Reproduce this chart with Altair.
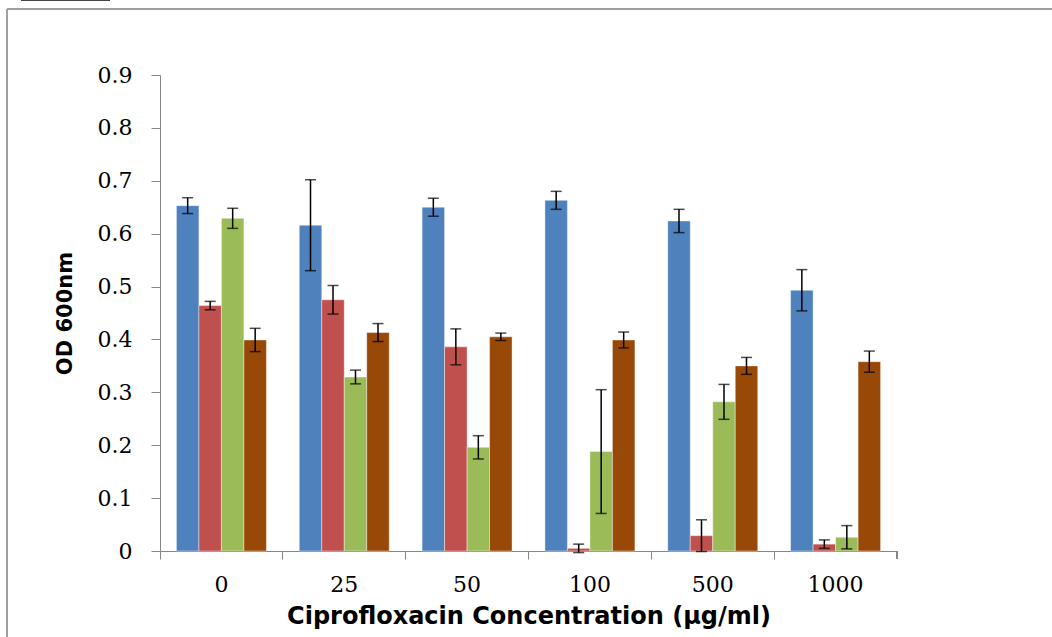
import altair as alt
import pandas as pd

concentrations = ["0", "25", "50", "100", "500", "1000"]
series = ["Series 1", "Series 2", "Series 3", "Series 4"]
colors = ["#4F81BD", "#C0504D", "#9BBB59", "#984807"]

blue = [0.653, 0.616, 0.650, 0.663, 0.624, 0.493]
blue_err = [0.015, 0.086, 0.017, 0.017, 0.022, 0.039]
red = [0.464, 0.475, 0.386, 0.005, 0.029, 0.013]
red_err = [0.008, 0.027, 0.034, 0.008, 0.030, 0.008]
green = [0.629, 0.329, 0.196, 0.188, 0.282, 0.026]
green_err = [0.019, 0.013, 0.022, 0.117, 0.033, 0.022]
brown = [0.399, 0.413, 0.405, 0.399, 0.350, 0.358]
brown_err = [0.022, 0.017, 0.007, 0.015, 0.016, 0.020]

y_ticks = [0, 0.1, 0.2, 0.3, 0.4, 0.5, 0.6, 0.7, 0.8, 0.9]

rows = []
for s, vals, errs in zip(series, [blue, red, green, brown],
                         [blue_err, red_err, green_err, brown_err]):
    for c, v, e in zip(concentrations, vals, errs):
        rows.append({"conc": c, "series": s, "value": v, "lo": v - e, "hi": v + e})
df = pd.DataFrame(rows)

axis_col = "#868686"

x_enc = alt.X(
    "conc:N",
    sort=concentrations,
    scale=alt.Scale(paddingInner=0, paddingOuter=0),
    axis=alt.Axis(
        title="Ciprofloxacin Concentration (µg/ml)",
        labelAngle=0,
        bandPosition=0,
        tickSize=8,
        tickColor=axis_col,
        domainColor=axis_col,
        labelFont="DejaVu Serif",
        labelFontSize=22,
        labelColor="#000000",
        labelPadding=15,
        titleFont="DejaVu Sans",
        titleFontSize=24,
        titleFontWeight="bold",
        titleColor="#000000",
        titlePadding=9,
    ),
)
xo_enc = alt.XOffset("series:N", sort=series,
                     scale=alt.Scale(paddingInner=0, paddingOuter=0.73))

y_scale = alt.Scale(domain=[0, 0.9], nice=False, zero=True)

bars = alt.Chart(df).mark_bar(stroke="#ffffff", strokeWidth=0.6, strokeOpacity=0.7).encode(
    x=x_enc,
    xOffset=xo_enc,
    y=alt.Y(
        "value:Q",
        scale=y_scale,
        axis=alt.Axis(
            title="OD 600nm",
            values=y_ticks,
            labelExpr="datum.value == 0 ? '0' : format(datum.value, '.1f')",
            grid=False,
            tickSize=9,
            tickColor=axis_col,
            domainColor=axis_col,
            labelFont="DejaVu Serif",
            labelFontSize=22,
            labelColor="#000000",
            labelPadding=19,
            titleFont="DejaVu Sans",
            titleFontSize=21,
            titleFontWeight="bold",
            titleColor="#000000",
            titlePadding=22,
        ),
    ),
    color=alt.Color("series:N", sort=series,
                    scale=alt.Scale(domain=series, range=colors), legend=None),
)

err_rule = alt.Chart(df).mark_rule(color="#000000", strokeWidth=1.5).encode(
    x=alt.X("conc:N", sort=concentrations),
    xOffset=alt.XOffset("series:N", sort=series),
    y=alt.Y("lo:Q", scale=y_scale),
    y2="hi:Q",
)
cap_hi = alt.Chart(df).mark_tick(color="#000000", size=11, thickness=1.5, orient="horizontal").encode(
    x=alt.X("conc:N", sort=concentrations),
    xOffset=alt.XOffset("series:N", sort=series),
    y=alt.Y("hi:Q", scale=y_scale),
)
cap_lo = alt.Chart(df).mark_tick(color="#000000", size=11, thickness=1.5, orient="horizontal").encode(
    x=alt.X("conc:N", sort=concentrations),
    xOffset=alt.XOffset("series:N", sort=series),
    y=alt.Y("lo:Q", scale=y_scale),
)

# last category boundary tick at the right end of the x axis
end_tick = alt.Chart(df).mark_rule(color=axis_col, strokeWidth=1).encode(
    x=alt.value(737), y=alt.value(476), y2=alt.value(484)
)
# outer frame (top and left) and small dark line at the top-left
frame_top = alt.Chart(df).mark_rule(color="#a0a0a0", strokeWidth=2).encode(
    x=alt.value(-153), x2=alt.value(900), y=alt.value(-66)
)
frame_left = alt.Chart(df).mark_rule(color="#a0a0a0", strokeWidth=2).encode(
    x=alt.value(-153), y=alt.value(-66), y2=alt.value(570)
)
top_mark = alt.Chart(df).mark_rule(color="#444444", strokeWidth=2).encode(
    x=alt.value(-139), x2=alt.value(-50), y=alt.value(-75)
)

chart = alt.layer(
    bars, err_rule, cap_hi, cap_lo, end_tick, frame_top, frame_left, top_mark
).properties(
    width=737,
    height=476,
    autosize=alt.AutoSizeParams(type="none"),
    padding={"left": 160, "top": 75, "right": 155, "bottom": 86},
    background="#ffffff",
).configure_view(stroke=None)

chart.save("out.html", embed_options={"renderer": "svg", "actions": False})
